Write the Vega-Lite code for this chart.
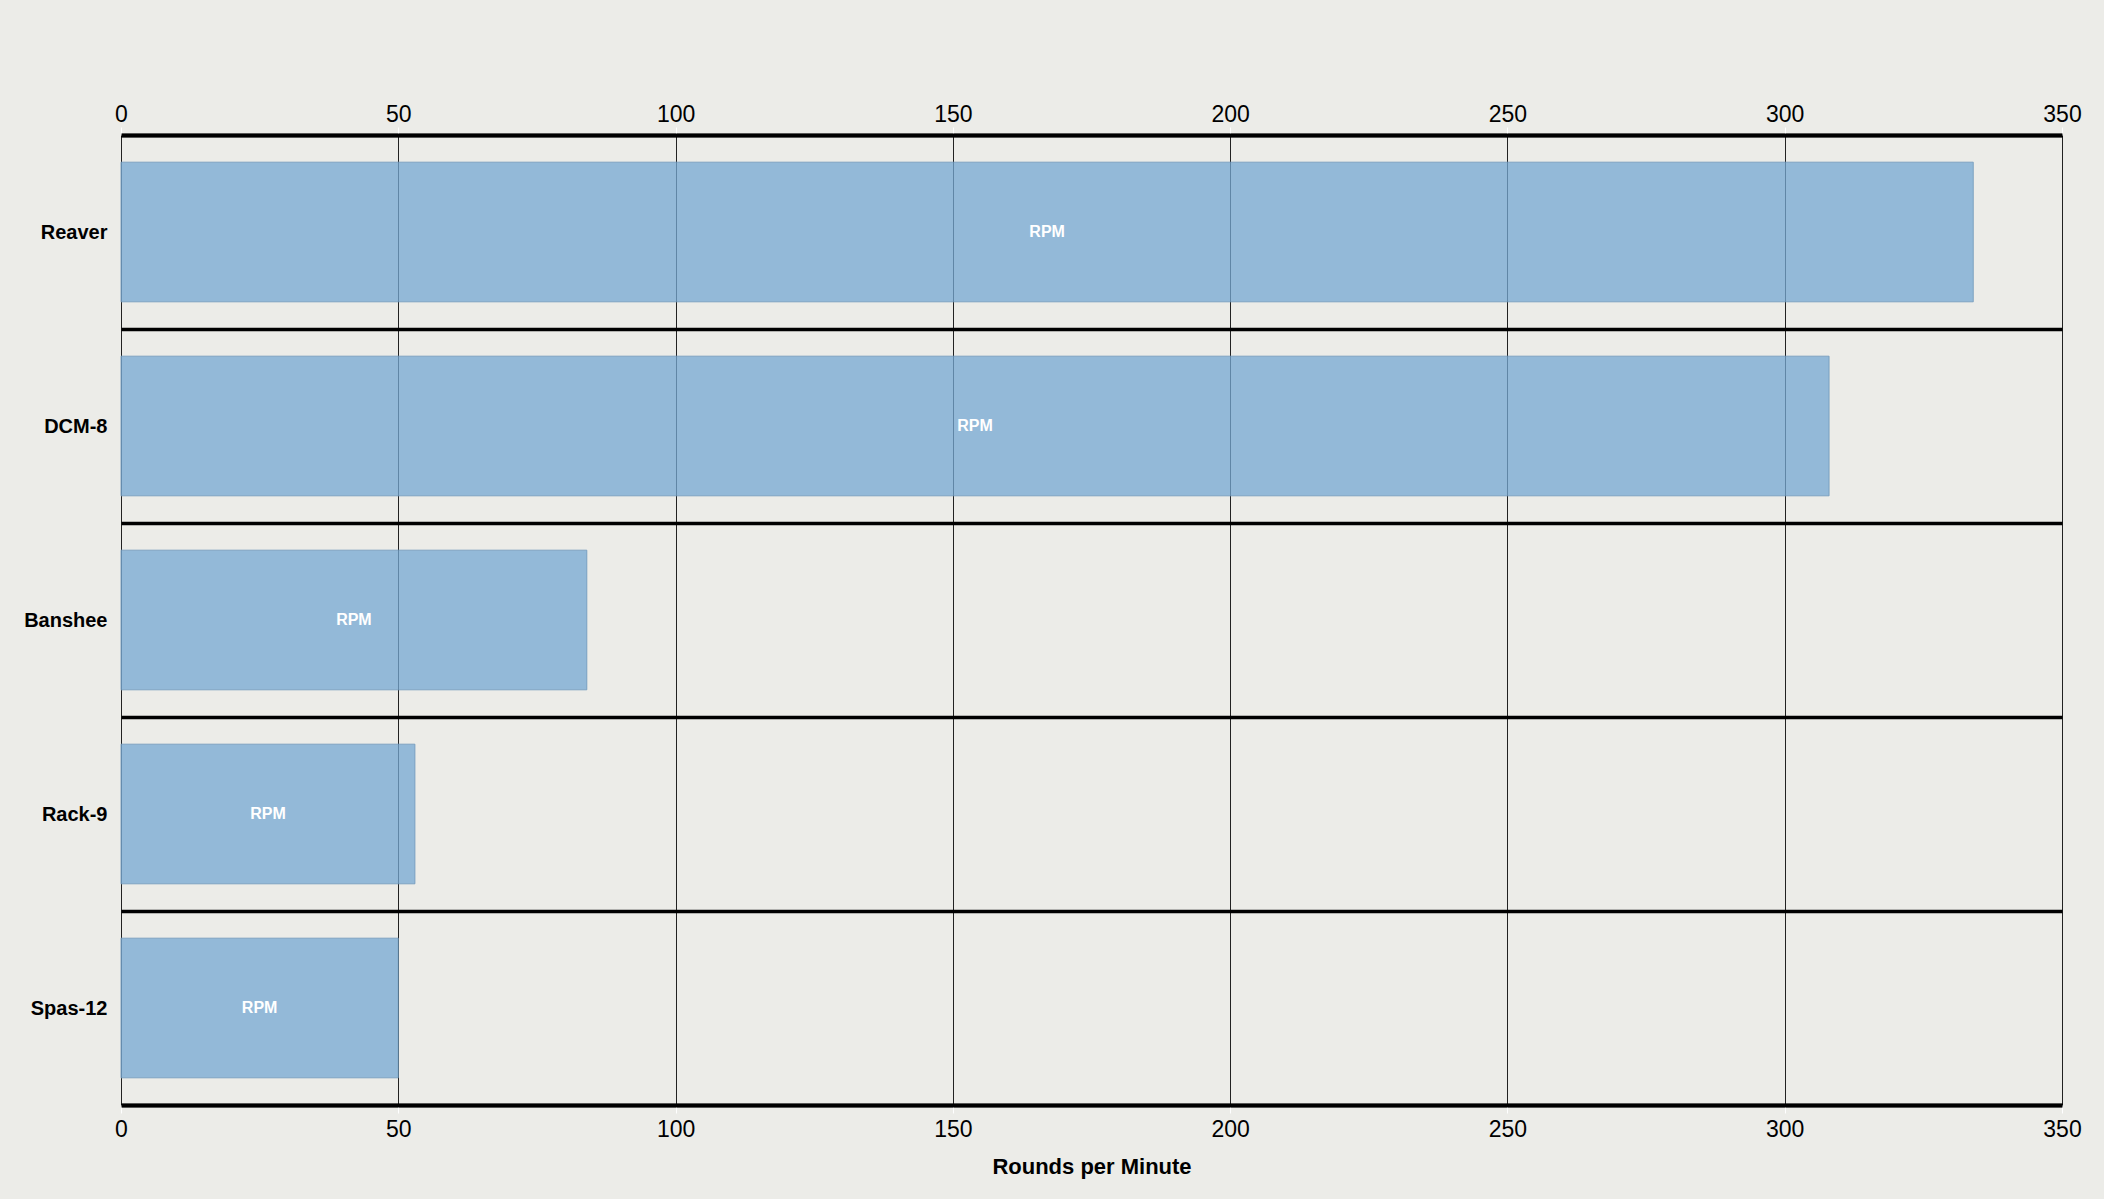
{
"$schema": "https://vega.github.io/schema/vega-lite/v6.json",
"width": 1941,
"height": 970,
"autosize": "none",
"padding": {"left": 121, "top": 135, "right": 42, "bottom": 94},
"background": "#ecece8",
"data": {
"values": [
{"weapon": "Reaver", "rpm": 334},
{"weapon": "DCM-8", "rpm": 308},
{"weapon": "Banshee", "rpm": 84},
{"weapon": "Rack-9", "rpm": 53},
{"weapon": "Spas-12", "rpm": 50}
]
},
"encoding": {
"y": {
"field": "weapon",
"type": "nominal",
"sort": null,
"title": null,
"scale": {"paddingInner": 0, "paddingOuter": 0},
"axis": {
"domain": false,
"ticks": false,
"grid": true,
"tickBand": "extent",
"gridColor": "#000000",
"gridWidth": 3.5,
"gridOpacity": 1,
"labelFont": "Liberation Sans",
"labelFontWeight": "bold",
"labelFontSize": 20,
"labelColor": "#000000",
"labelPadding": 14
}
}
},
"layer": [
{
"mark": {"type": "bar", "height": {"band": 0.72}, "fill": "#75a8d3", "fillOpacity": 0.75, "stroke": "#6f97ba", "strokeWidth": 1, "strokeOpacity": 0.8},
"encoding": {
"x": {
"field": "rpm",
"type": "quantitative",
"title": "Rounds per Minute",
"scale": {"domain": [0, 350], "nice": false},
"axis": {
"orient": "bottom",
"values": [0, 50, 100, 150, 200, 250, 300, 350],
"grid": true,
"gridColor": "#222222",
"gridWidth": 1,
"gridOpacity": 1,
"domainColor": "#000000",
"domainWidth": 4,
"tickColor": "#ffffff",
"tickSize": 8,
"labelFont": "Liberation Sans",
"labelFontSize": 23,
"labelColor": "#000000",
"labelPadding": 5,
"labelFlush": false,
"titleFont": "Liberation Sans",
"titleFontSize": 22,
"titleFontWeight": "bold",
"titleColor": "#000000",
"titlePadding": 15
}
}
}
},
{
"mark": {"type": "text", "color": "#ffffff", "font": "Liberation Sans", "fontWeight": "bold", "fontSize": 16},
"transform": [{"calculate": "datum.rpm / 2", "as": "mid"}],
"encoding": {
"x": {
"field": "mid",
"type": "quantitative",
"axis": {
"orient": "top",
"values": [0, 50, 100, 150, 200, 250, 300, 350],
"grid": false,
"title": null,
"domainColor": "#000000",
"domainWidth": 4,
"tickColor": "#ffffff",
"tickSize": 8,
"labelFont": "Liberation Sans",
"labelFontSize": 23,
"labelColor": "#000000",
"labelPadding": 1,
"labelFlush": false
}
},
"text": {"value": "RPM"}
}
}
],
"resolve": {"axis": {"x": "independent"}},
"config": {"view": {"stroke": null}}
}
